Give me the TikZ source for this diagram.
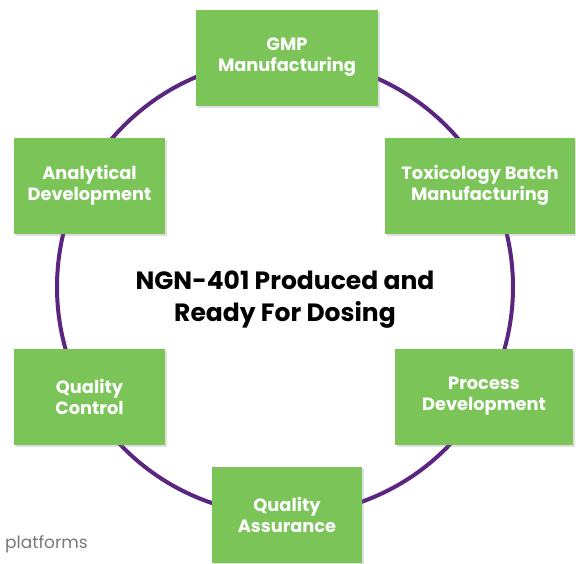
\documentclass[tikz,border=0pt]{standalone}
\usepackage{fontspec}
\setmainfont{Poppins}
\usetikzlibrary{shadows}

\definecolor{stepgreen}{RGB}{123,197,88}
\definecolor{ringpurple}{RGB}{91,38,128}
\definecolor{footgrey}{RGB}{120,120,120}

\tikzset{
  task/.style={rectangle,fill=stepgreen,minimum height=96pt,inner sep=0pt,
    text=white,align=center,font=\fontsize{17.8}{21}\selectfont\bfseries,
    drop shadow={shadow xshift=2pt,shadow yshift=-2pt,opacity=0.25}},
  ring/.style={draw=ringpurple,line width=4pt}
}

\begin{document}
\begin{tikzpicture}[x=1pt,y=-1pt]
  \useasboundingbox (0,0) rectangle (576,563);

  \coordinate (c) at (285,287);
  \draw[ring] (c) circle[radius=228pt];

  \begin{scope}[every node/.style={task}]
    \node[minimum width=182pt] (gmp)  at (287,57.5)  {GMP\\Manufacturing};
    \node[minimum width=190pt] (tox)  at (480,185.5) {Toxicology Batch\\Manufacturing};
    \node[minimum width=178pt] (proc) at (484,396.5) {Process\\Development};
    \node[minimum width=150pt] (qa)   at (287,515)   {Quality\\Assurance};
    \node[minimum width=151pt] (qc)   at (89.5,396.5) {Quality\\Control};
    \node[minimum width=151pt] (anal) at (89.5,185.5) {Analytical\\Development};
  \end{scope}

  \node[align=center,font=\fontsize{25}{32}\selectfont\bfseries] (goal) at (285,300)
    {NGN-401 Produced and\\Ready For Dosing};

  \node[anchor=base west,inner sep=0pt,text=footgrey,font=\fontsize{17}{20}\selectfont]
    (foot) at (5,548) {platforms};

\end{tikzpicture}
\end{document}
